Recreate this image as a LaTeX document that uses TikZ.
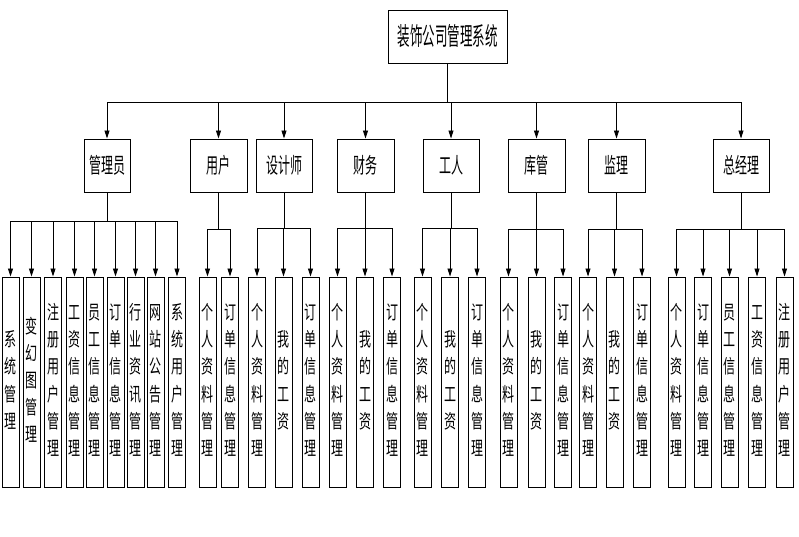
\documentclass[tikz,border=0pt]{standalone}
\usepackage{fontspec}
\newfontfamily\cjk{Noto Sans CJK SC}
\usetikzlibrary{arrows.meta,positioning}
\newcommand\vtxt[1]{\scalebox{1}[1.6]{\begin{tabular}{@{}c@{}}#1\end{tabular}}}
\newcommand\htxt[2]{\scalebox{1}[#1]{#2}}

\begin{document}
\begin{tikzpicture}[x=1pt,y=-1pt,
  box/.style={draw,line width=0.9pt,inner sep=0pt,font=\cjk\fontsize{12}{14}\selectfont},
  role/.style={box,minimum width=56pt,minimum height=53pt},
  leaf/.style={box,minimum width=17pt,minimum height=210pt,font=\cjk\fontsize{12}{17}\selectfont},
  arr/.style={line width=0.8pt,-{Triangle[length=8pt,width=5pt]}}]
  \useasboundingbox (0,0) rectangle (799,536);
  \node[box,minimum width=119pt,minimum height=53pt,font=\cjk\fontsize{12.5}{14}\selectfont] (sys) at (447.5,36.5) {\htxt{2}{装饰公司管理系统}};
  \foreach \n/\x/\w/\t in {adm/107/46/管理员, usr/218.5/57/用户, des/284/56/设计师,
      fin/365.5/57/财务, wrk/451/56/工人, sto/536.5/57/库管, sup/616.5/57/监理, gm/741/56/总经理}{
    \node[role,minimum width=\w pt] (\n) at (\x,165.5) {\htxt{1.8}{\t}};
    \draw[arr] (sys.south) -- (sys.south |- 0,102) -| (\n.north);
  }
  \foreach \x/\t [count=\i] in {10.5/{系\\统\\管\\理}, 31.5/{变\\幻\\图\\管\\理}, 53/{注\\册\\用\\户\\管\\理},
      74.5/{工\\资\\信\\息\\管\\理}, 94.5/{员\\工\\信\\息\\管\\理}, 115.5/{订\\单\\信\\息\\管\\理},
      135.5/{行\\业\\资\\讯\\管\\理}, 155.5/{网\\站\\公\\告\\管\\理}, 177/{系\\统\\用\\户\\管\\理}}{
    \node[leaf] (adm\i) at (\x,382) {\vtxt{\t}};
    \draw[arr] (adm.south) -- (adm.south |- 0,221) -| (adm\i.north);
  }
  \foreach \x/\t [count=\i] in {207.5/{个\\人\\资\\料\\管\\理}, 230/{订\\单\\信\\息\\管\\理}}{
    \node[leaf] (usr\i) at (\x,382) {\vtxt{\t}};
    \draw[arr] (usr.south) -- (usr.south |- 0,229) -| (usr\i.north);
  }
  \foreach \x/\t [count=\i] in {257/{个\\人\\资\\料\\管\\理}, 283.5/{我\\的\\工\\资}, 310.5/{订\\单\\信\\息\\管\\理}}{
    \node[leaf] (des\i) at (\x,382) {\vtxt{\t}};
    \draw[arr] (des.south) -- (des.south |- 0,228) -| (des\i.north);
  }
  \foreach \x/\t [count=\i] in {337.5/{个\\人\\资\\料\\管\\理}, 365/{我\\的\\工\\资}, 392/{订\\单\\信\\息\\管\\理}}{
    \node[leaf] (fin\i) at (\x,382) {\vtxt{\t}};
    \draw[arr] (fin.south) -- (fin.south |- 0,228) -| (fin\i.north);
  }
  \foreach \x/\t [count=\i] in {422.5/{个\\人\\资\\料\\管\\理}, 450/{我\\的\\工\\资}, 477/{订\\单\\信\\息\\管\\理}}{
    \node[leaf] (wrk\i) at (\x,382) {\vtxt{\t}};
    \draw[arr] (wrk.south) -- (wrk.south |- 0,228) -| (wrk\i.north);
  }
  \foreach \x/\t [count=\i] in {508.5/{个\\人\\资\\料\\管\\理}, 536.5/{我\\的\\工\\资}, 563/{订\\单\\信\\息\\管\\理}}{
    \node[leaf] (sto\i) at (\x,382) {\vtxt{\t}};
    \draw[arr] (sto.south) -- (sto.south |- 0,229) -| (sto\i.north);
  }
  \foreach \x/\t [count=\i] in {588/{个\\人\\资\\料\\管\\理}, 614.5/{我\\的\\工\\资}, 642/{订\\单\\信\\息\\管\\理}}{
    \node[leaf] (sup\i) at (\x,382) {\vtxt{\t}};
    \draw[arr] (sup.south) -- (sup.south |- 0,229) -| (sup\i.north);
  }
  \foreach \x/\t [count=\i] in {676.5/{个\\人\\资\\料\\管\\理}, 703/{订\\单\\信\\息\\管\\理}, 729.5/{员\\工\\信\\息\\管\\理},
      757/{工\\资\\信\\息\\管\\理}, 784.5/{注\\册\\用\\户\\管\\理}}{
    \node[leaf] (gm\i) at (\x,382) {\vtxt{\t}};
    \draw[arr] (gm.south) -- (gm.south |- 0,229) -| (gm\i.north);
  }
\end{tikzpicture}
\end{document}
